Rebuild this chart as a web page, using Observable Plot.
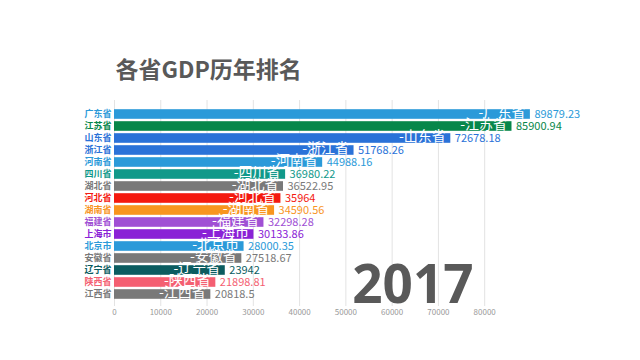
<!DOCTYPE html>
<html>
<head>
<meta charset="utf-8">
<script src="https://cdn.jsdelivr.net/npm/d3@7"></script>
<script src="https://cdn.jsdelivr.net/npm/@observablehq/plot@0.6"></script>
<style>
  html, body { margin: 0; padding: 0; background: #fff; }
</style>
</head>
<body>
<div id="chart"></div>
<script>
const title = "各省GDP历年排名";
const year = "2017";
const provinces = ["广东省","江苏省","山东省","浙江省","河南省","四川省","湖北省","河北省","湖南省","福建省","上海市","北京市","安徽省","辽宁省","陕西省","江西省"];
const gdp = [89879.23, 85900.94, 72678.18, 51768.26, 44988.16, 36980.22, 36522.95, 35964, 34590.56, 32298.28, 30133.86, 28000.35, 27518.67, 23942, 21898.81, 20818.5];
const barColors = ["#2b9ad9","#07874a","#2a72d8","#2a72d8","#2b9ad9","#11998a","#797979","#f4190f","#f8951f","#a050d4","#8a22d6","#2b9ad9","#797979","#0b5c60","#f45f72","#797979"];
const xTicks = [0, 10000, 20000, 30000, 40000, 50000, 60000, 70000, 80000];

const data = provinces.map((name, i) => ({name, value: gdp[i], color: barColors[i]}));

const chart = Plot.plot({
  width: 640,
  height: 360,
  marginTop: 104,
  marginBottom: 57,
  marginLeft: 114,
  marginRight: 17,
  x: {domain: [0, 110000], axis: null},
  y: {domain: provinces, axis: null, padding: 0},
  color: {type: "identity"},
  style: {fontFamily: "'Noto Sans CJK SC', 'Noto Sans', sans-serif", background: "#fff"},
  marks: [
    Plot.ruleX(xTicks, {x: d => d, stroke: "#e3e3e3", insetTop: -4, insetBottom: -3}),
    Plot.text(xTicks, {x: d => d, frameAnchor: "bottom", dy: 9, text: d => String(d), fill: "#999", fontSize: 8, lineAnchor: "middle"}),
    Plot.text([year], {frameAnchor: "bottom-right", dx: -150, dy: -1, lineAnchor: "bottom", textAnchor: "end", fontSize: 53, fontWeight: "bold", fill: "#595959", fontFamily: "'Open Sans', 'DejaVu Sans', sans-serif"}),
    Plot.barX(data, {x: "value", y: "name", fill: "color", insetTop: 1.2, insetBottom: 1.2}),
    Plot.text(data, {x: "value", y: "name", text: d => "-" + d.name, textAnchor: "end", dx: -5, dy: -2, fill: "white", fontSize: 14}),
    Plot.text(data, {x: "value", y: "name", text: d => String(d.value), textAnchor: "start", dx: 4, fill: "color", fontSize: 11}),
    Plot.text(data, {x: 0, y: "name", text: "name", textAnchor: "end", dx: -3, fill: "color", fontSize: 9, fontWeight: "bold"}),
    Plot.text([title], {frameAnchor: "top-left", dx: 1, dy: -27, lineAnchor: "bottom", textAnchor: "start", fontSize: 23, fontWeight: "bold", fill: "#595959"})
  ]
});
document.getElementById("chart").appendChild(chart);
</script>
</body>
</html>
